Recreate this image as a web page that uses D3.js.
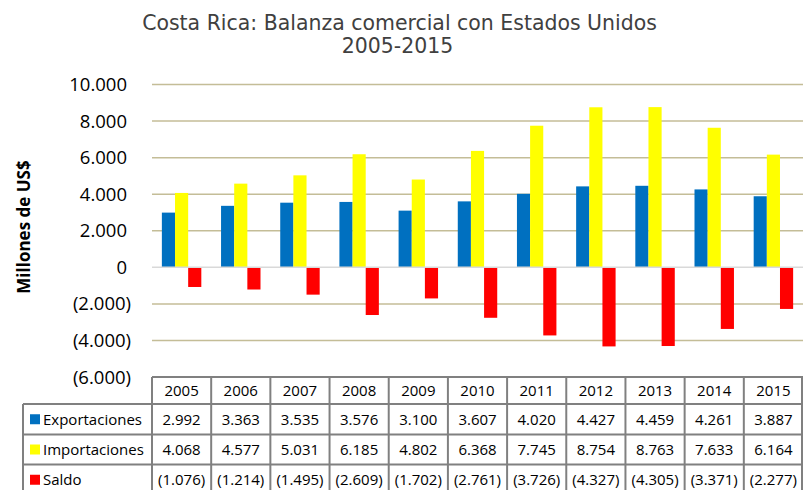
<!DOCTYPE html>
<html><head><meta charset="utf-8">
<script src="https://cdn.jsdelivr.net/npm/d3@7"></script>
<style>body{margin:0;background:#fff;}svg{display:block;}</style>
</head><body>
<svg id="chart" width="803" height="490"></svg>
<script>
const years = ["2005","2006","2007","2008","2009","2010","2011","2012","2013","2014","2015"];
const seriesNames = ["Exportaciones","Importaciones","Saldo"];
const exportaciones = [2992,3363,3535,3576,3100,3607,4020,4427,4459,4261,3887];
const importaciones = [4068,4577,5031,6185,4802,6368,7745,8754,8763,7633,6164];
const saldo = [-1076,-1214,-1495,-2609,-1702,-2761,-3726,-4327,-4305,-3371,-2277];
const yTicks = [-6000,-4000,-2000,0,2000,4000,6000,8000,10000];
const colors = ["#0070C0","#FFFF00","#FF0000"];
const titleLines = ["Costa Rica: Balanza comercial con Estados Unidos","2005-2015"];
const yTitle = "Millones de US$";

const seriesValues = [exportaciones, importaciones, saldo];
const svg = d3.select("#chart");

const fmtNum = v => {
  const s = d3.format(",")(Math.abs(v)).replace(/,/g,".");
  return v < 0 ? "(" + s + ")" : s;
};

const plotL = 152, plotR = 803, plotT = 84.5, plotB = 377;
const y = d3.scaleLinear().domain([-6000,10000]).range([plotB, plotT]);
const x0 = d3.scaleBand().domain(years).range([plotL, plotR]).padding(0);
const x1 = d3.scaleBand().domain(seriesNames).range([0, x0.bandwidth()]).paddingInner(0).paddingOuter(0.75);

// Title: font size fitted to reference width
const title = svg.append("g").attr("font-family","'DejaVu Sans', sans-serif").attr("fill","#404040").attr("font-size",20);
const t1 = title.append("text").attr("x",399.5).attr("y",30).attr("text-anchor","middle").text(titleLines[0]);
const fs = 20 * 515 / t1.node().getComputedTextLength();
title.attr("font-size", fs);
const t2 = title.append("text").attr("x",397.5).attr("y",53).attr("text-anchor","middle").text(titleLines[1]);

// Gridlines
svg.append("g").selectAll("line").data(yTicks.filter(t => t !== 0 && t !== -6000)).join("line")
  .attr("x1",plotL).attr("x2",plotR)
  .attr("y1",d=>y(d)).attr("y2",d=>y(d))
  .attr("stroke","#C4BD97").attr("stroke-width",1.5);

// Bars
const groups = svg.append("g").selectAll("g").data(years).join("g")
  .attr("transform", d => `translate(${x0(d)},0)`);
groups.selectAll("rect").data((d,i) => seriesNames.map((s,k) => ({s, v: seriesValues[k][i], k})))
  .join("rect")
  .attr("x", d => x1(d.s))
  .attr("width", x1.bandwidth())
  .attr("y", d => y(Math.max(0,d.v)))
  .attr("height", d => Math.abs(y(d.v) - y(0)))
  .attr("fill", d => colors[d.k]);

// Zero line
svg.append("line").attr("x1",plotL).attr("x2",plotR).attr("y1",y(0)).attr("y2",y(0))
  .attr("stroke","#D9D9D9").attr("stroke-width",1.5);

// Y tick labels
svg.append("g").attr("font-family","'Open Sans', sans-serif").attr("font-size",18.5).attr("fill","#000")
  .selectAll("text").data(yTicks).join("text")
  .attr("x", d => d < 0 ? 131 : 127)
  .attr("y", d => y(d) + 6.5)
  .attr("text-anchor","end")
  .text(d => fmtNum(d));

// Y title
svg.append("text")
  .attr("transform","translate(30,227) rotate(-90)")
  .attr("text-anchor","middle")
  .attr("font-family","'Open Sans', sans-serif").attr("font-weight","bold").attr("font-size",17)
  .text(yTitle);

// Table
const rowTops = [377, 404, 434.5, 464.5, 495];
const tbl = svg.append("g").attr("font-family","'Open Sans', sans-serif").attr("font-size",15).attr("fill","#000");
const bc = "#808080", bw = 2;
tbl.append("line").attr("x1",plotL).attr("x2",plotR).attr("y1",rowTops[0]).attr("y2",rowTops[0]).attr("stroke",bc).attr("stroke-width",bw);
[1,2,3].forEach(r => {
  tbl.append("line").attr("x1",23).attr("x2",plotR).attr("y1",rowTops[r]).attr("y2",rowTops[r]).attr("stroke",bc).attr("stroke-width",bw);
});
tbl.append("line").attr("x1",23).attr("x2",23).attr("y1",rowTops[1]).attr("y2",490).attr("stroke",bc).attr("stroke-width",bw);
years.forEach(yr => {
  tbl.append("line").attr("x1",x0(yr)).attr("x2",x0(yr)).attr("y1",rowTops[0]).attr("y2",490).attr("stroke",bc).attr("stroke-width",bw);
});
tbl.append("line").attr("x1",plotR-1).attr("x2",plotR-1).attr("y1",rowTops[0]).attr("y2",490).attr("stroke",bc).attr("stroke-width",bw);

tbl.selectAll("text.hdr").data(years).join("text").attr("class","hdr")
  .attr("x", d => x0(d) + x0.bandwidth()/2)
  .attr("y", (rowTops[0]+rowTops[1])/2 + 5.5)
  .attr("text-anchor","middle").text(d => d);
seriesNames.forEach((s,k) => {
  const cy = (rowTops[k+1] + rowTops[k+2]) / 2;
  tbl.append("rect").attr("x",30).attr("y",cy-5).attr("width",10).attr("height",10).attr("fill",colors[k]);
  tbl.append("text").attr("x",43).attr("y",cy+5.5).text(s);
  tbl.selectAll(null).data(years).join("text")
    .attr("x", d => x0(d) + x0.bandwidth()/2)
    .attr("y", cy + 5.5)
    .attr("text-anchor","middle")
    .text((d,i) => fmtNum(seriesValues[k][i]));
});
</script>
</body></html>
